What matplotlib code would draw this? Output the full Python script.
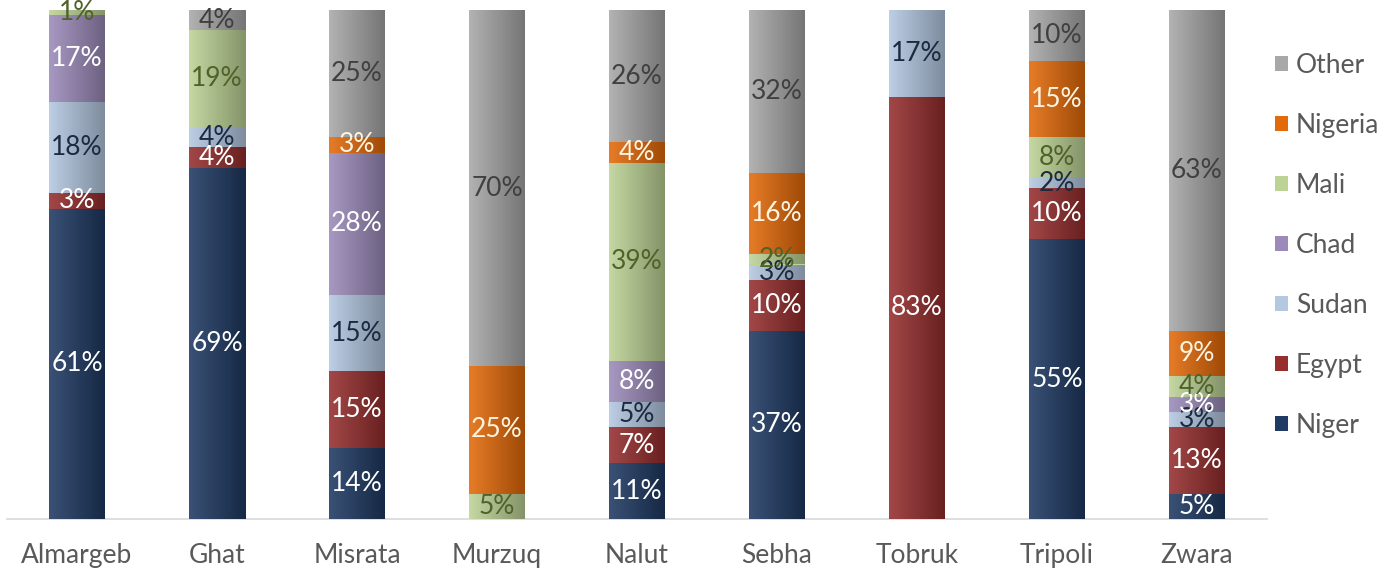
import numpy as np
import matplotlib
matplotlib.use("Agg")
import matplotlib.pyplot as plt
from matplotlib.colors import to_rgb
from matplotlib.patches import Patch

plt.rcParams['font.family'] = ['Lato', 'DejaVu Sans']

# data (percent of each region)
regions = ['Almargeb', 'Ghat', 'Misrata', 'Murzuq', 'Nalut', 'Sebha', 'Tobruk', 'Tripoli', 'Zwara']
niger   = [61, 69, 14, 0, 11, 37, 0, 55, 5]
egypt   = [3, 4, 15, 0, 7, 10, 83, 10, 13]
sudan   = [18, 4, 15, 0, 5, 3, 17, 2, 3]
chad    = [17, 0, 28, 0, 8, 0, 0, 0, 3]
mali    = [1, 19, 0, 5, 39, 2, 0, 8, 4]
nigeria = [0, 0, 3, 25, 4, 16, 0, 15, 9]
other   = [0, 4, 25, 70, 26, 32, 0, 10, 63]

series = [('Niger', niger), ('Egypt', egypt), ('Sudan', sudan), ('Chad', chad),
          ('Mali', mali), ('Nigeria', nigeria), ('Other', other)]
colors = {'Niger': '#1F3A63', 'Egypt': '#962E2E', 'Sudan': '#B4C8E1', 'Chad': '#9C8BBA',
          'Mali': '#BDD396', 'Nigeria': '#E36A0A', 'Other': '#A8A8A8'}
txt_colors = {'Niger': 'white', 'Egypt': 'white', 'Sudan': '#1B2A41', 'Chad': 'white',
              'Mali': '#4F6228', 'Nigeria': '#FFF4E0', 'Other': '#404040'}

fig = plt.figure(figsize=(13.92, 5.73), dpi=100)
ax = fig.add_axes([7/1392, 54/573, 1260/1392, 509/573])

x = np.arange(len(regions))
bottom = np.zeros(len(regions))
for name, vals in series:
    vals = np.array(vals, dtype=float)
    bars = ax.bar(x, vals, 0.4, bottom=bottom, color=colors[name], linewidth=0, zorder=2)
    # excel-ish horizontal gradient
    base = np.array(to_rgb(colors[name]))
    c0 = base + (1 - base) * 0.12
    c1 = base * 0.7
    t = np.linspace(0, 1, 64)[None, :, None]
    grad = c0[None, None, :] * (1 - t) + c1[None, None, :] * t
    for b in bars:
        if b.get_height() <= 0:
            continue
        im = ax.imshow(grad, extent=[b.get_x(), b.get_x() + b.get_width(),
                                     b.get_y(), b.get_y() + b.get_height()],
                       aspect='auto', zorder=3, interpolation='bilinear')
        im.set_clip_path(b)
    for xi, v, bt in zip(x, vals, bottom):
        if v > 0:
            ax.text(xi, bt + v / 2, '%d%%' % v, ha='center', va='center',
                    fontsize=19, color=txt_colors[name], zorder=4)
    bottom += vals

ax.set_xlim(-0.5, 8.5)
ax.set_ylim(0, 100)
for s in ['top', 'right', 'left']:
    ax.spines[s].set_visible(False)
ax.spines['bottom'].set_color('#D9D9D9')
ax.spines['bottom'].set_linewidth(1.2)
ax.set_yticks([])
ax.set_xticks(x)
ax.set_xticklabels(regions, fontsize=19, color='#595959')
ax.tick_params(axis='x', length=0, pad=17)

handles = [Patch(facecolor=colors[n], label=n) for n, _ in series][::-1]
fig.legend(handles=handles, loc='upper left', bbox_to_anchor=(1251/1392, 1 - 29/573),
           frameon=False, fontsize=19, labelcolor='#595959', handlelength=0.5,
           handleheight=0.5, handletextpad=0.3, labelspacing=1.33)

fig.savefig('out.png', dpi=100)
